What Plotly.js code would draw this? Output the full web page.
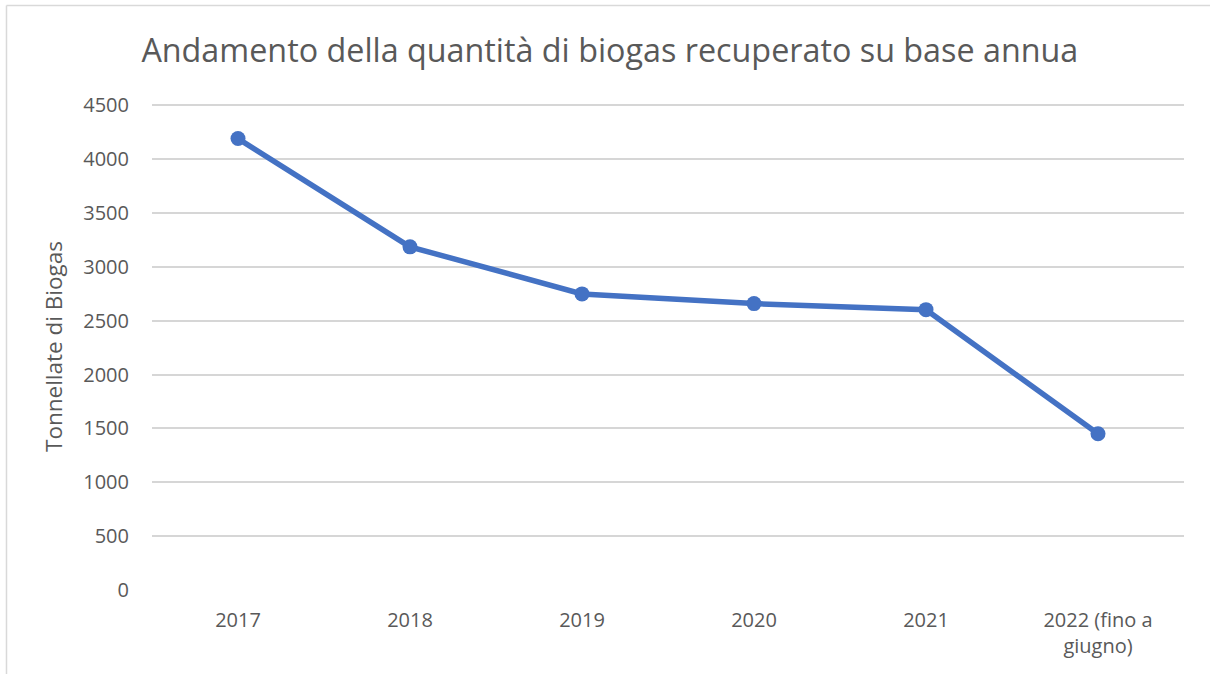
<!DOCTYPE html>
<html>
<head>
<meta charset="utf-8">
<script src="https://cdn.plot.ly/plotly-3.0.1.min.js"></script>
<style>
  body { margin: 0; background: white; }
  #grafico { width: 1210px; height: 674px; }
</style>
</head>
<body>
<div id="grafico"></div>
<script>
// dati del grafico
const anni = ['2017', '2018', '2019', '2020', '2021', '2022 (fino a<br>giugno)'];
const tonnellate = [4190, 3185, 2748, 2658, 2602, 1450];
const tickValori = [0, 500, 1000, 1500, 2000, 2500, 3000, 3500, 4000, 4500];

const grigio = '#595959';
const font = 'Open Sans, Noto Sans, sans-serif';

const trace = {
    x: anni,
    y: tonnellate,
    type: 'scatter',
    mode: 'lines+markers',
    line: { color: '#4472C4', width: 5.5 },
    marker: { color: '#4472C4', size: 15 },
    hoverinfo: 'x+y'
};

// bordo del riquadro (solo sinistra e sopra sono visibili)
const bordo = [
    { type: 'line', xref: 'paper', yref: 'paper', x0: -0.141, x1: 1.03, y0: 1.2, y1: 1.2,
      line: { color: '#D9D9D9', width: 1.5 } },
    { type: 'line', xref: 'paper', yref: 'paper', x0: -0.141, x1: -0.141, y0: 1.2, y1: -0.2,
      line: { color: '#D9D9D9', width: 1.5 } }
];

const layout = {
    width: 1210,
    height: 674,
    margin: { l: 152, r: 26, t: 103, b: 84 },
    paper_bgcolor: 'white',
    plot_bgcolor: 'white',
    showlegend: false,
    font: { family: font, color: grigio, size: 20 },
    title: {
        text: 'Andamento della quantità di biogas recuperato su base annua',
        font: { family: font, size: 32.3, color: grigio },
        x: 0.504, xanchor: 'center',
        y: 0.925, yanchor: 'middle', yref: 'container'
    },
    xaxis: {
        type: 'category',
        range: [-0.5, 5.5],
        showgrid: false,
        zeroline: false,
        showline: false,
        ticks: '',
        ticklabelstandoff: 16,
        tickfont: { family: font, size: 20, color: grigio }
    },
    yaxis: {
        range: [0, 4520],
        tickvals: tickValori,
        showgrid: true,
        gridcolor: '#D6D6D6',
        gridwidth: 2,
        zeroline: false,
        showline: false,
        ticks: '',
        ticklabelstandoff: 22,
        tickfont: { family: font, size: 20, color: grigio },
        title: {
            text: 'Tonnellate di Biogas',
            font: { family: font, size: 22.5, color: grigio },
            standoff: 14
        }
    },
    shapes: bordo
};

Plotly.newPlot('grafico', [trace], layout, { displayModeBar: false, staticPlot: true });
</script>
</body>
</html>
